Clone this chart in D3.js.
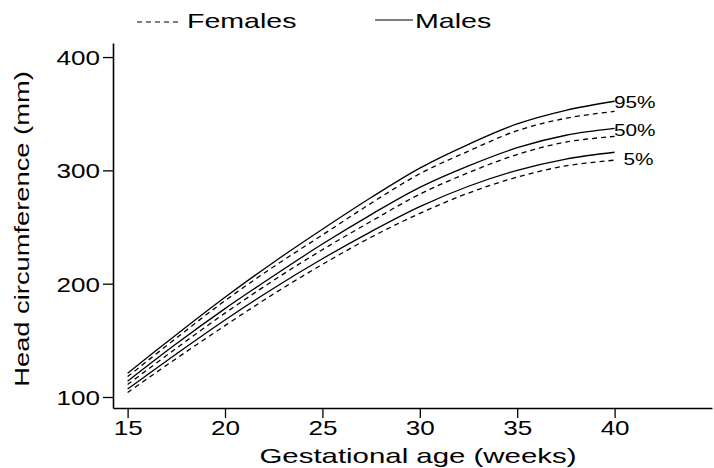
<!DOCTYPE html>
<html>
<head>
<meta charset="utf-8">
<script src="https://cdn.jsdelivr.net/npm/d3@7"></script>
<style>
  body { margin: 0; background: #fff; }
  svg text { font-family: "Liberation Sans", Arial, Helvetica, sans-serif; fill: #000; }
</style>
</head>
<body>
<div id="chart"></div>
<script>
// values, every 2.5 weeks
var weeks = [15, 17.5, 20, 22.5, 25, 27.5, 30, 32.5, 35, 37.5, 40];
var males95   = [121, 155, 188, 219, 248, 276, 302, 323, 341, 353, 361];
var females95 = [118, 152, 185, 215, 243, 271, 297, 317, 335, 346, 352];
var males50   = [114, 147, 178, 207, 235, 261, 285, 304, 320, 331, 337];
var females50 = [111, 143, 174, 203, 230, 255, 279, 298, 314, 325, 330];
var males5    = [107, 138, 168, 196, 222, 246, 268, 286, 300, 310, 316];
var females5  = [104, 134, 163, 191, 217, 241, 262, 280, 294, 304, 309];
var pctLabels = ['95%', '50%', '5%'];
var pctLabelAt = [360, 335.5, 310];   // value the label sits at
var xTicks = [15, 20, 25, 30, 35, 40];
var yTicks = [100, 200, 300, 400];

var width = 714;
var height = 468;

var x = d3.scaleLinear().domain([14.25, 45]).range([113, 712]);
var y = d3.scaleLinear().domain([90.3, 412.4]).range([408, 43]);

var svg = d3.select('#chart')
  .append('svg')
  .attr('width', width)
  .attr('height', height);

// the original font is wider than Liberation Sans, so stretch text sideways
function widen(sel, k) {
  sel.each(function() {
    var w = this.getComputedTextLength();
    d3.select(this).attr('textLength', w * k).attr('lengthAdjust', 'spacingAndGlyphs');
  });
}

var line = d3.line()
  .x(function(d) { return x(d[0]); })
  .y(function(d) { return y(d[1]); })
  .curve(d3.curveCatmullRom);

function pairs(vals) {
  return weeks.map(function(w, i) { return [w, vals[i]]; });
}

var series = [
  { vals: males95, dashed: false },
  { vals: females95, dashed: true },
  { vals: males50, dashed: false },
  { vals: females50, dashed: true },
  { vals: males5, dashed: false },
  { vals: females5, dashed: true }
];

svg.selectAll('path.curve')
  .data(series)
  .enter()
  .append('path')
  .attr('class', 'curve')
  .attr('d', function(d) { return line(pairs(d.vals)); })
  .attr('fill', 'none')
  .attr('stroke', '#000')
  .attr('stroke-width', 1.3)
  .attr('stroke-dasharray', function(d) { return d.dashed ? '5,4' : null; });

// percentile labels to the right of the curve ends
svg.selectAll('text.pct')
  .data(pctLabelAt)
  .enter()
  .append('text')
  .attr('class', 'pct')
  .attr('x', function(d, i) { return x(40) + (i == 2 ? 39 : 41); })
  .attr('y', function(d) { return y(d); })
  .attr('dy', '0.36em')
  .attr('text-anchor', 'end')
  .style('font-size', '16px')
  .text(function(d, i) { return pctLabels[i]; })
  .call(widen, 1.3);

// axes
var xAxis = svg.append('g')
  .attr('transform', 'translate(0,' + y.range()[0] + ')')
  .call(d3.axisBottom(x).tickValues(xTicks).tickSize(10).tickSizeOuter(0).tickPadding(2));
var yAxis = svg.append('g')
  .attr('transform', 'translate(' + x.range()[0] + ',0)')
  .call(d3.axisLeft(y).tickValues(yTicks).tickSize(10).tickSizeOuter(0).tickPadding(3));

[xAxis, yAxis].forEach(function(a) {
  a.select('.domain').attr('stroke', '#000').attr('stroke-width', 1.6);
  a.selectAll('.tick line').attr('stroke', '#000').attr('stroke-width', 1.3);
  a.selectAll('.tick text')
    .style('font-size', '21px')
    .style('font-family', '"Liberation Sans", Arial, sans-serif')
    .attr('fill', '#000')
    .call(widen, 1.24);
});
yAxis.selectAll('.tick text').attr('dy', '0.36em');

svg.append('text')
  .attr('x', 418)
  .attr('y', 463)
  .attr('text-anchor', 'middle')
  .style('font-size', '21px')
  .text('Gestational age (weeks)')
  .call(widen, 1.4);

svg.append('text')
  .attr('transform', 'translate(29,229) rotate(-90)')
  .attr('text-anchor', 'middle')
  .style('font-size', '21px')
  .text('Head circumference (mm)')
  .call(widen, 1.3);

// legend
var legend = svg.append('g');
legend.append('line')
  .attr('x1', 137).attr('x2', 180).attr('y1', 22).attr('y2', 22)
  .attr('stroke', '#000').attr('stroke-width', 1.2)
  .attr('stroke-dasharray', '5,4');
legend.append('text')
  .attr('x', 187).attr('y', 28)
  .style('font-size', '21px')
  .text('Females')
  .call(widen, 1.36);
legend.append('line')
  .attr('x1', 375).attr('x2', 413).attr('y1', 20).attr('y2', 20)
  .attr('stroke', '#000').attr('stroke-width', 1.2);
legend.append('text')
  .attr('x', 415).attr('y', 28)
  .style('font-size', '21px')
  .text('Males')
  .call(widen, 1.36);
</script>
</body>
</html>
